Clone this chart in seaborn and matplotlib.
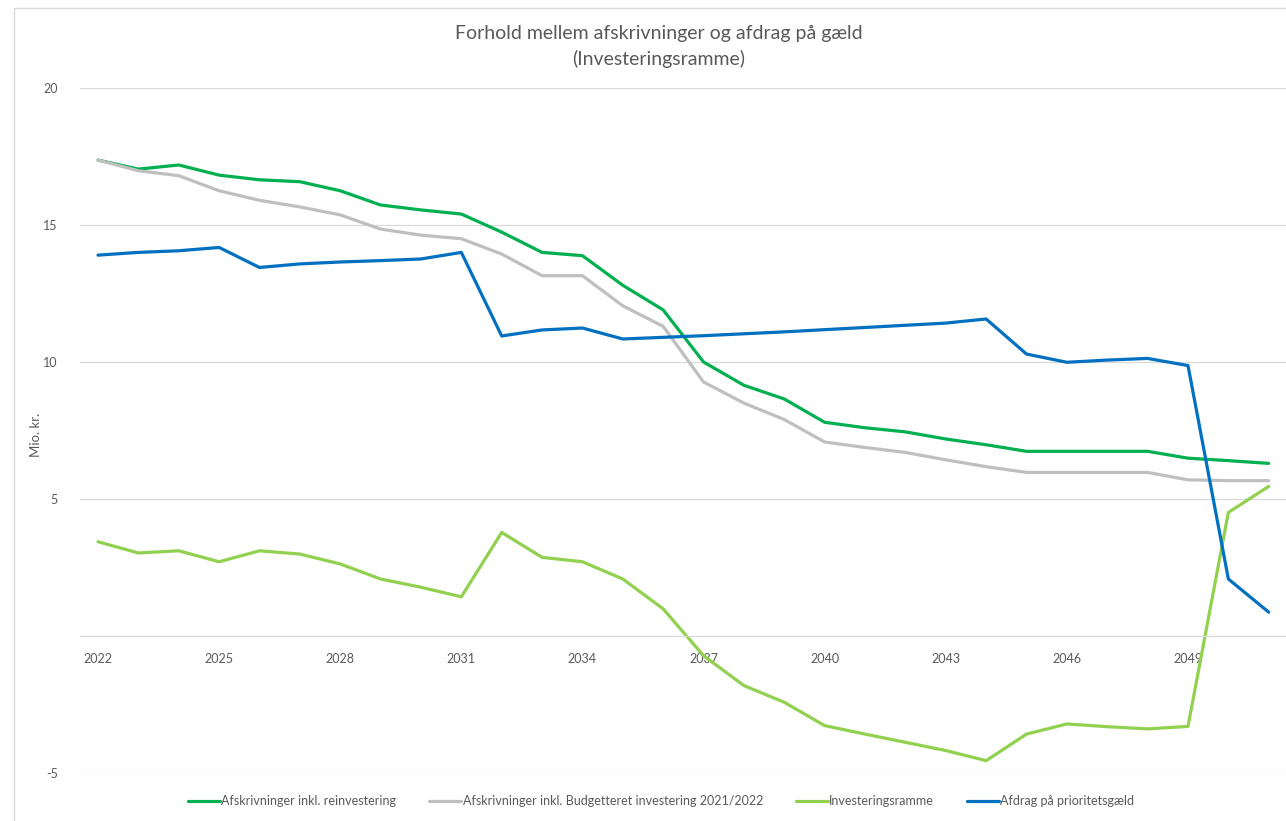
import pandas as pd
import matplotlib.pyplot as plt
from matplotlib.patches import Rectangle
import seaborn as sns

years = list(range(2022, 2052))

afskr_reinv = [17.37, 17.04, 17.19, 16.82, 16.65, 16.58, 16.25, 15.73, 15.55, 15.4,
               14.74, 14.0, 13.88, 12.8, 11.9, 10.0, 9.15, 8.65, 7.8, 7.6,
               7.45, 7.19, 6.98, 6.74, 6.74, 6.74, 6.74, 6.49, 6.4, 6.3]
afskr_budget = [17.37, 16.98, 16.8, 16.25, 15.9, 15.66, 15.37, 14.85, 14.63, 14.5,
                13.94, 13.15, 13.15, 12.05, 11.3, 9.27, 8.5, 7.9, 7.08, 6.88,
                6.7, 6.43, 6.18, 5.97, 5.97, 5.97, 5.97, 5.7, 5.67, 5.67]
inv_ramme = [3.44, 3.03, 3.11, 2.71, 3.11, 2.99, 2.63, 2.08, 1.78, 1.43,
             3.78, 2.87, 2.71, 2.08, 0.99, -0.72, -1.81, -2.42, -3.27, -3.58,
             -3.88, -4.18, -4.55, -3.58, -3.21, -3.31, -3.39, -3.3, 4.51, 5.46]
afdrag = [13.9, 14.0, 14.06, 14.18, 13.45, 13.58, 13.65, 13.7, 13.76, 14.0,
          10.95, 11.17, 11.24, 10.84, 10.9, 10.96, 11.03, 11.1, 11.18, 11.26,
          11.34, 11.42, 11.57, 10.29, 9.99, 10.07, 10.13, 9.87, 2.08, 0.87]

series_names = ['Afskrivninger inkl. reinvestering',
                'Afskrivninger inkl. Budgetteret investering 2021/2022',
                'Investeringsramme',
                'Afdrag på prioritetsgæld']
colors = ['#00B050', '#BFBFBF', '#92D050', '#0070C0']

df = pd.DataFrame({'year': years,
                   series_names[0]: afskr_reinv,
                   series_names[1]: afskr_budget,
                   series_names[2]: inv_ramme,
                   series_names[3]: afdrag})
long_df = df.melt(id_vars='year', var_name='serie', value_name='value')

sns.set_style('white')
plt.rcParams['font.family'] = ['Lato', 'DejaVu Sans']
plt.rcParams['axes.unicode_minus'] = False

fig = plt.figure(figsize=(12.86, 8.21), dpi=100)
ax = fig.add_axes([80/1286, 1 - 773/821, 1 - 80/1286, (773 - 88)/821])

sns.lineplot(data=long_df, x='year', y='value', hue='serie', hue_order=series_names,
             palette=colors, linewidth=2.3, ax=ax)

ax.set_xlim(2022 - 18/40.37, 2022 + (1286 - 98)/40.37)
ax.set_ylim(-5, 20)
ax.set_yticks([-5, 5, 10, 15, 20])
ax.set_xticks(list(range(2022, 2050, 3)))
ax.yaxis.grid(True, color='#D9D9D9', linewidth=0.9)
ax.set_axisbelow(True)
for s in ['top', 'right', 'left']:
    ax.spines[s].set_visible(False)
ax.spines['bottom'].set_position(('data', 0))
ax.spines['bottom'].set_color('#D9D9D9')
ax.spines['bottom'].set_linewidth(0.9)
ax.tick_params(axis='both', length=0, labelsize=9, labelcolor='#595959')
ax.tick_params(axis='x', pad=12)
ax.tick_params(axis='y', pad=16)
ax.set_xlabel('')
ax.set_ylabel('Mio. kr.', fontsize=9.5, color='#595959')
ax.yaxis.set_label_coords((42 - 80)/1206, (773 - 435)/685)

fig.text(0.512, 1 - 33/821, 'Forhold mellem afskrivninger og afdrag på gæld',
         ha='center', va='center', fontsize=14, color='#595959')
fig.text(0.512, 1 - 59/821, '(Investeringsramme)',
         ha='center', va='center', fontsize=14, color='#595959')

handles, labels = ax.get_legend_handles_labels()
ax.get_legend().remove()
fig.legend(handles, labels, loc='center', bbox_to_anchor=(0.514, 1 - 801/821), ncol=4,
           frameon=False, fontsize=9, labelcolor='#595959', handlelength=2.6,
           handletextpad=0.1, columnspacing=2.6)

# thin chart border like the excel frame
fig.patches.append(Rectangle((14/1286, -0.5), 1.5, 0.5 + 1 - 8/821, transform=fig.transFigure,
                             fill=False, edgecolor='#D9D9D9', linewidth=1))

fig.savefig('out.png', dpi=100)
